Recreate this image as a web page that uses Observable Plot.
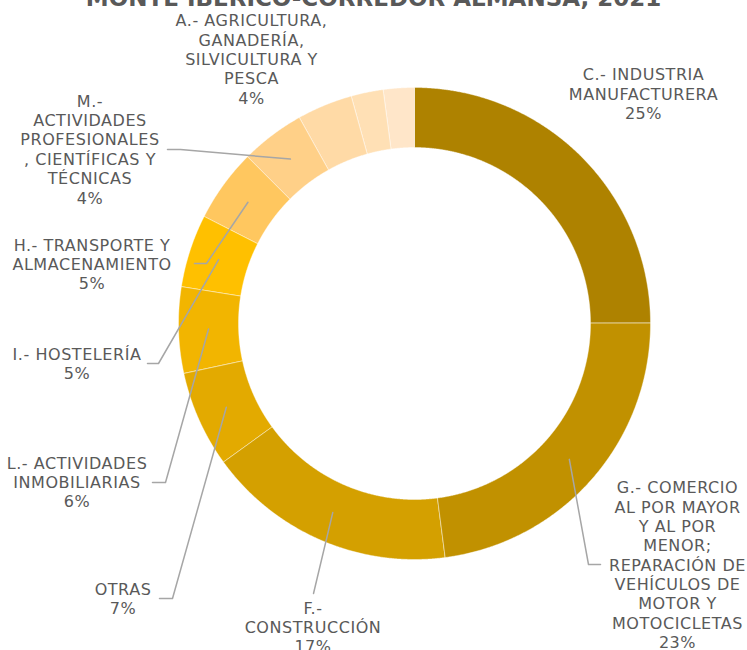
<!DOCTYPE html>
<html>
<head>
<meta charset="utf-8">
<script src="https://cdn.jsdelivr.net/npm/d3@7"></script>
<script src="https://cdn.jsdelivr.net/npm/@observablehq/plot@0.6"></script>
<style>
  body { margin: 0; background: #ffffff; }
  #chart { width: 747px; height: 650px; overflow: hidden; }
  #chart svg text.lbl, #chart svg g.lbl text { letter-spacing: 0.55px; }
</style>
</head>
<body>
<div id="chart"></div>
<script>
// ---------- DATA ----------
const title = "MONTE IBÉRICO-CORREDOR ALMANSA, 2021";

const keys = ["C", "G", "F", "OTRAS", "L", "I", "H", "M", "A", "S1", "S2"];

const categories = [
  "C.- INDUSTRIA MANUFACTURERA",
  "G.- COMERCIO AL POR MAYOR Y AL POR MENOR; REPARACIÓN DE VEHÍCULOS DE MOTOR Y MOTOCICLETAS",
  "F.- CONSTRUCCIÓN",
  "OTRAS",
  "L.- ACTIVIDADES INMOBILIARIAS",
  "I.- HOSTELERÍA",
  "H.- TRANSPORTE Y ALMACENAMIENTO",
  "M.- ACTIVIDADES PROFESIONALES , CIENTÍFICAS Y TÉCNICAS",
  "A.- AGRICULTURA, GANADERÍA, SILVICULTURA Y PESCA",
  "(sin etiqueta 1)",
  "(sin etiqueta 2)"
];

// Wrapped label text as shown in the chart ("" = label not shown)
const labelTexts = [
  "C.- INDUSTRIA\nMANUFACTURERA",
  "G.- COMERCIO\nAL POR MAYOR\nY AL POR\nMENOR;\nREPARACIÓN DE\nVEHÍCULOS DE\nMOTOR Y\nMOTOCICLETAS",
  "F.-\nCONSTRUCCIÓN",
  "OTRAS",
  "L.- ACTIVIDADES\nINMOBILIARIAS",
  "I.- HOSTELERÍA",
  "H.- TRANSPORTE Y\nALMACENAMIENTO",
  "M.-\nACTIVIDADES\nPROFESIONALES\n, CIENTÍFICAS Y\nTÉCNICAS",
  "A.- AGRICULTURA,\nGANADERÍA,\nSILVICULTURA Y\nPESCA",
  "",
  ""
];

const values = [25.0, 23.0, 17.1, 6.6, 5.9, 5.0, 5.0, 4.4, 3.8, 2.2, 2.1];

const colors = ["#AE8200", "#C19100", "#D4A000", "#E3AA00", "#F2B500", "#FFC000",
                "#FFC75F", "#FFD088", "#FFDAA6", "#FFE0B5", "#FFE6C9"];

// ---------- LAYOUT ----------
const W = 747, H = 650;
const cx = 414, cy = 323, rInner = 176, rOuter = 236;

// label block anchor: [center x, top of first line]
const labelPos = {
  C: [643, 66], G: [677, 479], F: [312.5, 599.5], OTRAS: [122.5, 580.5],
  L: [76.5, 454.5], I: [76.5, 345.5], H: [91.5, 236.5], M: [89.5, 92.5], A: [251, 12]
};
// leader line points on the label side (end point = slice centroid)
const leaderStart = {
  G: [[600, 564], [588, 564]],
  F: [[313, 593]],
  OTRAS: [[159, 598], [172, 598]],
  L: [[152, 482], [165, 482]],
  I: [[147, 363], [158, 363]],
  H: [[194, 263], [206, 263]],
  M: [[167, 149], [180, 149]]
};

// ---------- BUILD ----------
const total = d3.sum(values);
const arcs = d3.pie().sort(null).value(d => d)(values);

const pt = (a, r) => [cx + r * Math.sin(a), cy - r * Math.cos(a)];

const slicePts = [];
arcs.forEach((arc, i) => {
  const n = Math.max(4, Math.ceil((arc.endAngle - arc.startAngle) / (Math.PI / 720)));
  const outer = [], inner = [];
  for (let k = 0; k <= n; k++) {
    const a = arc.startAngle + (arc.endAngle - arc.startAngle) * k / n;
    outer.push(pt(a, rOuter));
    inner.push(pt(a, rInner));
  }
  inner.reverse();
  [...outer, ...inner].forEach(([x, y]) => slicePts.push({key: keys[i], x, y}));
});

const centroid = i => pt((arcs[i].startAngle + arcs[i].endAngle) / 2, (rInner + rOuter) / 2);

const leaderPts = [];
keys.forEach((k, i) => {
  if (!leaderStart[k]) return;
  leaderStart[k].forEach(([x, y]) => leaderPts.push({key: k, x, y}));
  const [x, y] = centroid(i);
  leaderPts.push({key: k, x, y});
});

const labelData = keys.map((k, i) => ({
  key: k,
  x: labelPos[k] ? labelPos[k][0] : null,
  y: labelPos[k] ? labelPos[k][1] : null,
  text: labelTexts[i] + "\n" + Math.round(values[i] / total * 100) + "%"
})).filter(d => labelPos[d.key]);

const chart = Plot.plot({
  width: W,
  height: H,
  margin: 0,
  x: {domain: [0, W], range: [0, W], axis: null},
  y: {domain: [0, H], range: [0, H], axis: null},
  color: {domain: keys, range: colors},
  style: {background: "#ffffff", fontFamily: "DejaVu Sans", overflow: "hidden"},
  marks: [
    Plot.line(slicePts, {x: "x", y: "y", z: "key", fill: "key", stroke: "#ffffff",
      strokeWidth: 0.6, strokeOpacity: 0.7, curve: "linear-closed"}),
    Plot.line(leaderPts, {x: "x", y: "y", z: "key", stroke: "#A6A6A6", strokeWidth: 1.5}),
    Plot.text(labelData, {x: "x", y: "y", text: "text", textAnchor: "middle", lineAnchor: "top",
      fontSize: 16, lineHeight: 1.21, fill: "#595959", className: "lbl"}),
    Plot.text([title], {x: () => 373, y: () => 5, text: d => d, textAnchor: "middle",
      lineAnchor: "bottom", fontSize: 23, fontWeight: "bold", fill: "#595959"})
  ]
});

document.getElementById("chart").appendChild(chart);
</script>
</body>
</html>
